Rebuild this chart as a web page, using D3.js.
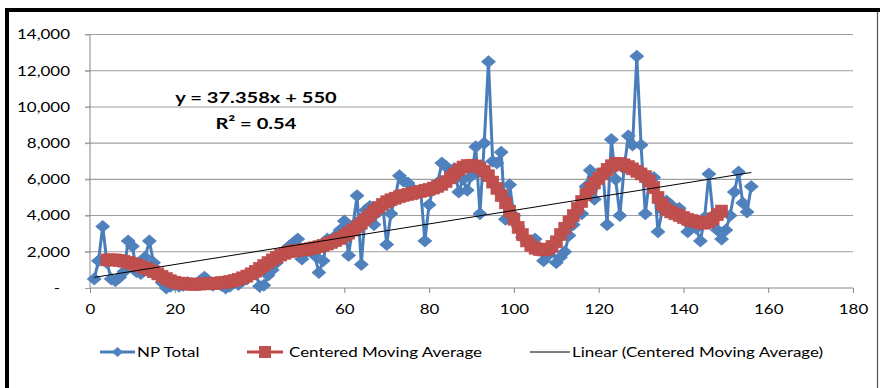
<!DOCTYPE html>
<html><head><meta charset="utf-8">
<script src="https://cdn.jsdelivr.net/npm/d3@7"></script>
<style>
body{margin:0;background:#fff}
svg{display:block}
text{font-family:Lato,"Noto Sans",sans-serif;fill:#000}
</style>
</head><body>
<svg id="c" width="880" height="388"></svg>
<script>
// ---- data ----
const xTicks = [0,20,40,60,80,100,120,140,160,180];
const yTicks = [0,2000,4000,6000,8000,10000,12000,14000];
const seriesNames = ["NP Total","Centered Moving Average","Linear (Centered Moving Average)"];
// NP Total, x = 1..156
const npTotal = [
500,1500,3400,1400,500,400,600,900,2600,2300,
900,800,1700,2600,1400,700,300,0,100,200,
100,150,300,250,200,400,600,250,150,300,
150,0,100,300,200,400,500,700,900,100,
150,700,1000,1400,1800,2100,2300,2500,2700,1600,
2000,2200,1800,850,1500,2700,2500,2900,3200,3700,
1800,3400,5100,1300,4300,4500,3500,4200,4700,2400,
4100,5000,6200,5900,5800,5500,5200,5400,2600,4600,
5600,5800,6900,6700,6500,6600,5300,6000,5400,6200,
7800,4100,8000,12500,7000,6900,7500,3800,5700,4000,
3400,2800,2600,2400,2700,2200,1500,1800,2300,1400,
1700,2000,2900,3500,4200,4100,5600,6500,4900,6000,
6400,3500,8200,6000,4000,6600,8400,7900,12800,7900,
4100,6000,6100,3100,4300,4800,4600,4200,4400,3800,
3100,3400,3300,2600,3900,6300,4000,3200,2700,3200,
4000,5300,6400,4700,4200,5600
];
// Centered moving average, first value at x = 4
const maFirstX = 4;
const movingAvg = [
1550,1550,1550,1520,1480,1420,1350,1280,1200,1100,
1000,900,780,650,520,400,320,270,240,220,
210,210,220,230,240,250,270,290,320,360,
410,480,560,660,780,920,1080,1240,1400,1550,
1700,1820,1920,2000,2050,2080,2100,2130,2170,2220,
2280,2350,2430,2520,2620,2740,2880,3030,3200,3380,
3580,3800,4020,4250,4450,4620,4760,4870,4960,5040,
5110,5170,5230,5290,5340,5390,5450,5520,5610,5730,
5880,6080,6300,6520,6680,6760,6780,6740,6630,6450,
6200,5850,5500,5100,4700,4250,3800,3350,2950,2600,
2350,2200,2120,2100,2150,2300,2550,2950,3300,3650,
4000,4400,4780,5150,5500,5800,6050,6300,6550,6750,
6880,6880,6800,6700,6580,6450,6300,6150,5900,5550,
5000,4600,4350,4200,4100,4000,3900,3800,3730,3660,
3600,3580,3650,3820,4050,4250
];
const trendSlope = 37.358, trendIntercept = 550;
const trendRange = [1,156];

// ---- chart ----
const svg = d3.select("#c");
const x = d3.scaleLinear().domain([0,180]).range([90,853]);
const y = d3.scaleLinear().domain([0,14000]).range([288,34.5]);

// frame
svg.append("rect").attr("x",5).attr("y",8).attr("width",875).attr("height",4).attr("fill","#000");
svg.append("rect").attr("x",5).attr("y",8).attr("width",4).attr("height",380).attr("fill","#000");
svg.append("line").attr("x1",877.5).attr("x2",877.5).attr("y1",12).attr("y2",388).attr("stroke","#555").attr("stroke-width",1.2);

// gridlines
svg.append("g").selectAll("line").data(yTicks.filter(d=>d>0)).join("line")
  .attr("x1",85).attr("x2",853).attr("y1",d=>y(d)).attr("y2",d=>y(d))
  .attr("stroke","#9e9e9e").attr("stroke-width",1.1);

// y axis
const gy = svg.append("g").attr("transform","translate(90,0)")
  .call(d3.axisLeft(y).tickValues(yTicks).tickSize(5).tickPadding(15)
    .tickFormat(d=>d===0?"-":d3.format(",")(d)));
gy.select(".domain").attr("stroke","#868686").attr("d","M0,"+y(14000)+"V"+y(0));
gy.selectAll(".tick line").attr("stroke","#9e9e9e");
gy.selectAll(".tick text").attr("font-size",13.5).attr("fill","#000")
  .attr("dx",d=>d===0?-10:0);

// x axis
const gx = svg.append("g").attr("transform","translate(0,"+y(0)+")")
  .call(d3.axisBottom(x).tickValues(xTicks).tickSize(5).tickPadding(11));
gx.select(".domain").attr("stroke","#868686").attr("d","M"+x(0)+",0H"+x(180));
gx.selectAll(".tick line").attr("stroke","#868686");
gx.selectAll(".tick text").attr("font-size",13.5).attr("fill","#000");

// NP Total
const npData = npTotal.map((v,i)=>({x:i+1,v}));
const blue="#4A7EBB", blueM="#4F81BD", red="#BE4B48", redM="#C0504D";
svg.append("path").datum(npData)
  .attr("d",d3.line().x(d=>x(d.x)).y(d=>y(d.v)))
  .attr("fill","none").attr("stroke",blue).attr("stroke-width",3).attr("stroke-linejoin","round");
const diamond = (w,h)=>`M0,${-h}L${w},0L0,${h}L${-w},0Z`;
svg.append("g").selectAll("path").data(npData).join("path")
  .attr("transform",d=>`translate(${x(d.x)},${y(d.v)})`)
  .attr("d",diamond(7,6)).attr("fill",blueM).attr("stroke",blue).attr("stroke-width",0.8);

// moving average
const maData = movingAvg.map((v,i)=>({x:i+maFirstX,v}));
svg.append("path").datum(maData)
  .attr("d",d3.line().x(d=>x(d.x)).y(d=>y(d.v)))
  .attr("fill","none").attr("stroke",red).attr("stroke-width",3);
svg.append("g").selectAll("rect").data(maData).join("rect")
  .attr("x",d=>x(d.x)-6).attr("y",d=>y(d.v)-6).attr("width",12).attr("height",12)
  .attr("fill",redM).attr("stroke",red).attr("stroke-width",0.6);

// trendline
svg.append("line")
  .attr("x1",x(trendRange[0])).attr("y1",y(trendSlope*trendRange[0]+trendIntercept))
  .attr("x2",x(trendRange[1])).attr("y2",y(trendSlope*trendRange[1]+trendIntercept))
  .attr("stroke","#000").attr("stroke-width",1);

// equation
const eq = svg.append("g").attr("font-weight","bold").attr("font-size",16).attr("text-anchor","middle");
eq.append("text").attr("x",256).attr("y",103).text("y = 37.358x + 550");
eq.append("text").attr("x",256).attr("y",129).text("R² = 0.54");

// legend
const lg = svg.append("g").attr("font-size",13.5);
const ly = 352;
lg.append("line").attr("x1",100).attr("x2",135).attr("y1",ly).attr("y2",ly).attr("stroke",blue).attr("stroke-width",3);
lg.append("path").attr("transform",`translate(117.5,${ly})`).attr("d",diamond(5.5,5)).attr("fill",blueM);
lg.append("text").attr("x",137).attr("y",ly).attr("dy","0.35em").text(seriesNames[0]);
lg.append("line").attr("x1",247).attr("x2",283).attr("y1",ly).attr("y2",ly).attr("stroke",red).attr("stroke-width",3);
lg.append("rect").attr("x",259).attr("y",ly-6).attr("width",12).attr("height",12).attr("fill",redM);
lg.append("text").attr("x",289).attr("y",ly).attr("dy","0.35em").text(seriesNames[1]);
lg.append("line").attr("x1",530).attr("x2",570).attr("y1",ly).attr("y2",ly).attr("stroke","#000").attr("stroke-width",1);
lg.append("text").attr("x",572).attr("y",ly).attr("dy","0.35em").text(seriesNames[2]);

// horizontal stretch of text to match the reference's wide lettering
const ref = gy.selectAll(".tick text").filter(d=>d===14000).node();
const k = 53 / ref.getComputedTextLength();
svg.selectAll("text").each(function(){
  const w = this.getComputedTextLength();
  d3.select(this).attr("textLength", w*k).attr("lengthAdjust","spacingAndGlyphs");
});
</script>
</body></html>
